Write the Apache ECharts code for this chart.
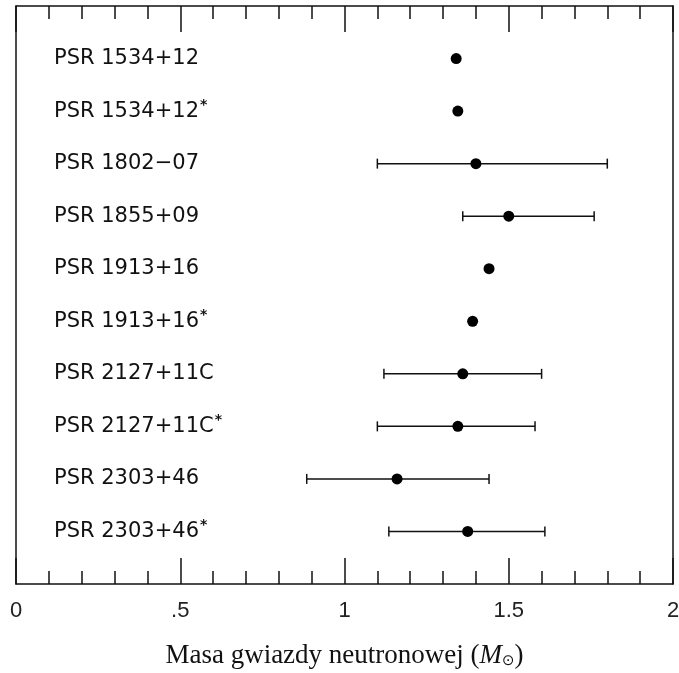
<!DOCTYPE html>
<html><head><meta charset="utf-8">
<script src="https://cdn.jsdelivr.net/npm/echarts@6/dist/echarts.min.js"></script>
<style>html,body{margin:0;padding:0;background:#fff}#c{width:679px;height:673px}</style>
</head><body><div id="c"></div>
<script>
var pulsars = ['PSR 1534+12','PSR 1534+12','PSR 1802\u221207','PSR 1855+09','PSR 1913+16','PSR 1913+16','PSR 2127+11C','PSR 2127+11C','PSR 2303+46','PSR 2303+46'];
var starred = [false,true,false,false,false,true,false,true,false,true];
var masses  = [1.34,1.345,1.40,1.50,1.44,1.39,1.36,1.345,1.16,1.375];
var errLow  = [null,null,1.10,1.36,null,null,1.12,1.10,0.885,1.135];
var errHigh = [null,null,1.80,1.76,null,null,1.60,1.58,1.44,1.61];
var xTicks = [0,0.5,1,1.5,2];
var xTickLabels = ['0','.5','1','1.5','2'];

var pts = masses.map(function(m,i){return [m,i+1];});
var bars = [];
for (var i=0;i<masses.length;i++){ if(errLow[i]!==null) bars.push([errLow[i],errHigh[i],i+1]); }

var ink = '#111';
var tickCommon = {
  type:'value', min:0, max:2, interval:0.5,
  axisLine:{show:true,onZero:false,lineStyle:{color:ink,width:1.5}},
  axisTick:{show:true,inside:true,length:26,lineStyle:{color:ink,width:1.5}},
  minorTick:{show:true,splitNumber:5,length:13,lineStyle:{color:ink,width:1.5}},
  splitLine:{show:false}
};
var chart = echarts.init(document.getElementById('c'));
chart.setOption({
  backgroundColor:'#fff',
  animation:false,
  grid:{left:16,right:6,top:6,bottom:89,containLabel:false,outerBoundsMode:'none'},
  xAxis:[
    Object.assign({}, tickCommon, {
      position:'bottom',
      axisLabel:{show:true,margin:16,fontFamily:'Liberation Sans',fontSize:22,color:'#222',
        formatter:function(v){var k=xTicks.indexOf(v);return k>=0?xTickLabels[k]:'';}},
      name:'{t|Masa gwiazdy neutronowej (}{it|M}{sub|\u2299}{t|)}',
      nameLocation:'middle', nameGap:58,
      nameTextStyle:{rich:{
        t:{fontFamily:'Liberation Serif',fontSize:27,color:'#111'},
        it:{fontFamily:'Liberation Serif',fontStyle:'italic',fontSize:27,color:'#111'},
        sub:{fontFamily:'DejaVu Sans',fontSize:15,color:'#111',verticalAlign:'bottom',padding:[10,0,0,0]}
      }}
    }),
    Object.assign({}, tickCommon, {position:'top',axisLabel:{show:false}})
  ],
  yAxis:[
    {type:'value',min:0,max:11,interval:1,inverse:true,position:'left',
     axisLine:{show:true,onZero:false,lineStyle:{color:ink,width:1.5}},
     axisTick:{show:false},splitLine:{show:false},
     axisLabel:{show:true,inside:true,margin:38,align:'left',
       formatter:function(v){
         if(v<1||v>pulsars.length) return '';
         var i=v-1;
         return '{n|'+pulsars[i]+'}'+(starred[i]?'{s|*}':'');
       },
       rich:{
         n:{fontFamily:'DejaVu Sans',fontSize:21,color:'#111'},
         s:{fontFamily:'DejaVu Sans',fontSize:14,fontWeight:'bold',color:'#111',verticalAlign:'top',padding:[0,0,12,1]}
       }}
    },
    {type:'value',min:0,max:11,inverse:true,position:'right',
     axisLine:{show:true,onZero:false,lineStyle:{color:ink,width:1.5}},
     axisTick:{show:false},splitLine:{show:false},axisLabel:{show:false}}
  ],
  series:[
    {type:'custom',
     data:bars,
     renderItem:function(params,api){
       var y=api.value(2);
       var a=api.coord([api.value(0),y]);
       var b=api.coord([api.value(1),y]);
       var h=5;
       var st={stroke:ink,lineWidth:1.5};
       return {type:'group',children:[
         {type:'line',shape:{x1:a[0],y1:a[1],x2:b[0],y2:b[1]},style:st},
         {type:'line',shape:{x1:a[0],y1:a[1]-h,x2:a[0],y2:a[1]+h},style:st},
         {type:'line',shape:{x1:b[0],y1:b[1]-h,x2:b[0],y2:b[1]+h},style:st}
       ]};
     },
     z:2
    },
    {type:'scatter',data:pts,symbol:'circle',symbolSize:11,itemStyle:{color:'#000',opacity:1},z:3}
  ]
});
</script></body></html>
